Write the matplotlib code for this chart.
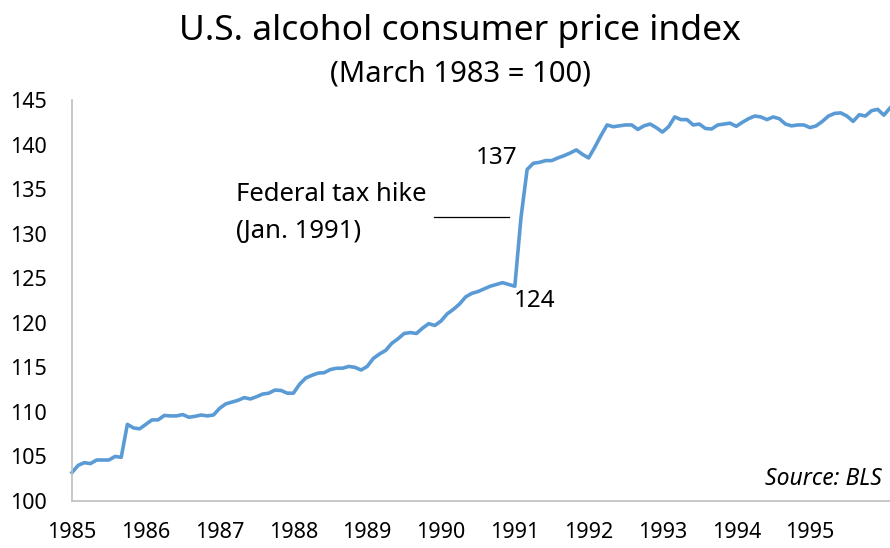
import matplotlib
matplotlib.use("Agg")
import matplotlib.pyplot as plt

plt.rcParams['font.family'] = ['Noto Sans', 'DejaVu Sans']

# monthly alcohol CPI, Jan 1985 onward
cpi = [103.2, 104.0, 104.3, 104.2, 104.6, 104.6, 104.6, 105.0, 104.9, 108.6, 108.2, 108.1,
       108.6, 109.1, 109.1, 109.6, 109.55, 109.55, 109.7, 109.4, 109.5, 109.65, 109.55, 109.65,
       110.4, 110.9, 111.1, 111.3, 111.6, 111.45, 111.7, 112.0, 112.1, 112.45, 112.4, 112.1,
       112.1, 113.1, 113.8, 114.1, 114.35, 114.4, 114.75, 114.9, 114.9, 115.1, 115.0, 114.7,
       115.1, 116.0, 116.5, 116.9, 117.7, 118.2, 118.8, 118.9, 118.8, 119.4, 119.9, 119.7,
       120.2, 121.0, 121.5, 122.1, 122.9, 123.3, 123.5, 123.8, 124.1, 124.3, 124.5, 124.3,
       124.1, 131.8, 137.2, 137.9, 138.0, 138.2, 138.2, 138.5, 138.75, 139.05, 139.4, 138.9,
       138.5, 139.7, 141.0, 142.2, 142.0, 142.1, 142.2, 142.2, 141.7, 142.1, 142.3, 141.9,
       141.4, 142.0, 143.1, 142.8, 142.8, 142.2, 142.3, 141.8, 141.75, 142.2, 142.3, 142.4,
       142.05, 142.5, 142.9, 143.2, 143.1, 142.8, 143.1, 142.9, 142.3, 142.1, 142.2, 142.2,
       141.9, 142.1, 142.6, 143.2, 143.5, 143.55, 143.2, 142.6, 143.35, 143.2, 143.8, 143.95,
       143.3, 144.1]
years = [str(y) for y in range(1985, 1996)]
months = list(range(len(cpi)))

fig = plt.figure(figsize=(8.9, 5.48), dpi=100)
ax = fig.add_axes([72 / 890, 47 / 548, 818 / 890, 401 / 548])

ax.plot(months, cpi, color='#5B9BD5', lw=2.6, solid_joinstyle='round', clip_on=False)

ax.set_xlim(0, 133)
ax.set_ylim(100, 145)
ax.set_yticks(range(100, 146, 5))
ax.set_xticks(range(0, 121, 12))
ax.set_xticklabels(years)
ax.tick_params(length=0, labelsize=15.5, colors='black')
ax.tick_params(axis='y', pad=18)
ax.tick_params(axis='x', pad=15)

for s in ['top', 'right']:
    ax.spines[s].set_visible(False)
for s in ['left', 'bottom']:
    ax.spines[s].set_color('#BFBFBF')
    ax.spines[s].set_linewidth(1.2)

fig.text(0.517, 0.943, 'U.S. alcohol consumer price index', ha='center', va='center', fontsize=25.5)
fig.text(0.517, 0.865, '(March 1983 = 100)', ha='center', va='center', fontsize=21)

# tax hike annotation
ax.text(26.7, 134.45, 'Federal tax hike', fontsize=18.5, ha='left', va='center')
ax.text(26.7, 130.2, '(Jan. 1991)', fontsize=18.5, ha='left', va='center')
ax.plot([58.8, 71.0], [131.9, 131.9], color='black', lw=0.9)
ax.annotate('137', (74, cpi[74]), xytext=(-21.6, 8.6), textcoords='offset points',
            ha='center', va='center', fontsize=17.5)
ax.annotate('124', (72, cpi[72]), xytext=(14.4, -10.8), textcoords='offset points',
            ha='center', va='center', fontsize=17.5)

ax.text(0.990, 0.055, 'Source: BLS', transform=ax.transAxes, ha='right', va='center',
        fontsize=16.5, style='italic')

fig.savefig('out.png', dpi=100)
